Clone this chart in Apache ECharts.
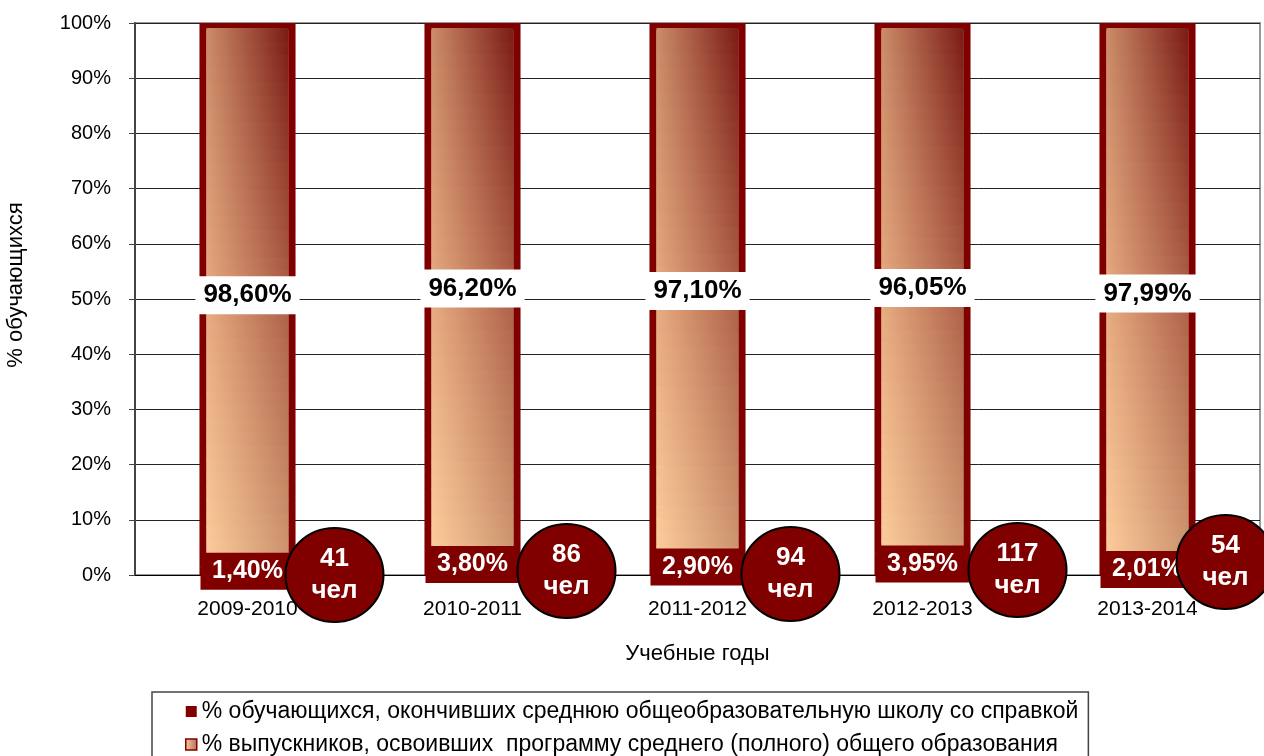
<!DOCTYPE html>
<html>
<head>
<meta charset="utf-8">
<script src="https://cdn.jsdelivr.net/npm/echarts@6/dist/echarts.min.js"></script>
<style>
  html, body { margin: 0; padding: 0; background: #fff; }
  #chart { width: 1264px; height: 756px; }
</style>
</head>
<body>
<div id="chart"></div>
<script>
// data
const years = ["2009-2010", "2010-2011", "2011-2012", "2012-2013", "2013-2014"];
const withCertificate = [1.40, 3.80, 2.90, 3.95, 2.01];
const graduated = [98.60, 96.20, 97.10, 96.05, 97.99];
const peopleCount = [41, 86, 94, 117, 54];

const nameCert = "% обучающихся, окончивших среднюю общеобразовательную школу со справкой";
const nameGrad = "% выпускников, освоивших  программу среднего (полного) общего образования";

const DARK = "#800000";
const FONT = '"Liberation Sans", Arial, sans-serif';
const BAR_W = 0.427;   // share of the category band
const BORDER = 7;

// "98,60%"
const fmt = (v) => v.toFixed(2).replace(".", ",") + "%";

// bar fill colours: rows bottom -> middle -> top, left and right edge
const leftRows = [[253, 205, 156], [230, 170, 128], [203, 140, 104]];
const rightRows = [[206, 150, 112], [172, 94, 70], [122, 26, 20]];

function mixRows(rows, v) {
  // v: 0 bottom, 1 top
  const t = v * 2;
  const i = Math.min(1, Math.floor(t));
  const f = t - i;
  const a = rows[i], b = rows[i + 1];
  const c = a.map((x, k) => Math.round(x + (b[k] - x) * f));
  return "rgb(" + c.join(",") + ")";
}

// upper segment: shaded fill inside the border + white value box
function renderTop(params, api) {
  const idx = api.value(0);
  const lo = api.coord([idx, api.value(1)]);
  const hi = api.coord([idx, api.value(2)]);
  const band = api.size([1, 0])[0];
  const inner = band * BAR_W - 2 * BORDER;
  const x0 = lo[0] - inner / 2;
  const yTop = hi[1] + BORDER - 2;
  const yBot = lo[1];
  const h = yBot - yTop;
  const N = 40;
  const children = [];
  for (let k = 0; k < N; k++) {
    const v = 1 - (k + 0.5) / N;
    children.push({
      type: "rect",
      shape: { x: x0, y: yTop + (k * h) / N, width: inner, height: h / N + 1 },
      style: {
        fill: new echarts.graphic.LinearGradient(0, 0, 1, 0, [
          { offset: 0, color: mixRows(leftRows, v) },
          { offset: 1, color: mixRows(rightRows, v) }
        ])
      }
    });
  }
  children.push({
    type: "text",
    style: {
      text: fmt(api.value(3)),
      x: lo[0],
      y: (lo[1] + hi[1]) / 2,
      align: "center",
      verticalAlign: "middle",
      fill: "#000",
      font: "bold 26px " + FONT,
      backgroundColor: "#fff",
      padding: [6, 8]
    }
  });
  return { type: "group", children: children };
}

// circles sit a bit right of each bar, last one pushed in from the edge
const circleOffsets = [[87, 0], [94, -4], [93, -1], [95, -5], [78, -13]];

const chart = echarts.init(document.getElementById("chart"));

const option = {
  animation: false,
  textStyle: { fontFamily: FONT },
  grid: {
    left: 135,
    right: 4,
    top: 23,
    bottom: 181,
    outerBoundsMode: "none",
    show: true,
    borderColor: "#999",
    borderWidth: 2
  },
  legend: {
    orient: "vertical",
    left: 152,
    top: 692,
    height: 120,
    padding: [8, 10, 30, 33],
    itemGap: 10,
    itemWidth: 11,
    itemHeight: 11,
    icon: "rect",
    borderColor: "#444",
    borderWidth: 1.5,
    textStyle: { fontSize: 23, color: "#000" },
    data: [
      { name: nameCert },
      { name: nameGrad, itemStyle: { borderWidth: 1.5, borderColor: DARK } }
    ]
  },
  xAxis: {
    type: "category",
    data: years,
    name: "Учебные годы",
    nameLocation: "middle",
    nameGap: 68,
    nameTextStyle: { fontSize: 22, color: "#000" },
    axisLine: { lineStyle: { color: "#000", width: 1 } },
    axisTick: { show: false },
    axisLabel: { fontSize: 21, color: "#000", margin: 24 }
  },
  yAxis: {
    type: "value",
    min: 0,
    max: 100,
    interval: 10,
    name: "% обучающихся",
    nameLocation: "middle",
    nameGap: 108,
    nameRotate: 90,
    nameTextStyle: { fontSize: 22, color: "#000", padding: [0, 0, 0, 28] },
    axisLine: { show: true, lineStyle: { color: "#444", width: 2 } },
    axisTick: { show: true, length: 6, lineStyle: { color: "#444" } },
    axisLabel: { formatter: "{value}%", fontSize: 20, color: "#000", margin: 24 },
    splitLine: { lineStyle: { color: "#222", width: 1 } }
  },
  series: [
    {
      name: nameCert,
      type: "bar",
      stack: "total",
      barWidth: (BAR_W * 100) + "%",
      z: 4,
      data: withCertificate,
      itemStyle: { color: DARK },
      label: {
        show: true,
        position: "inside",
        formatter: (p) => fmt(p.value),
        color: "#fff",
        fontSize: 25,
        fontWeight: "bold",
        backgroundColor: DARK,
        width: 82,
        align: "center",
        lineHeight: 25,
        padding: [6, 6]
      }
    },
    {
      name: nameGrad,
      type: "bar",
      stack: "total",
      barWidth: (BAR_W * 100) + "%",
      z: 2,
      data: graduated,
      itemStyle: {
        color: new echarts.graphic.LinearGradient(0, 0, 1, 0, [
          { offset: 0, color: "#fdcb9b" },
          { offset: 1, color: "#b0705a" }
        ]),
        borderColor: DARK,
        borderWidth: BORDER
      }
    },
    {
      type: "custom",
      z: 3,
      renderItem: renderTop,
      encode: { x: 0, y: [1, 2] },
      data: years.map((y, i) => [i, withCertificate[i], withCertificate[i] + graduated[i], graduated[i]])
    },
    {
      type: "scatter",
      z: 5,
      symbol: "circle",
      symbolSize: [98, 94],
      itemStyle: { color: DARK, borderColor: "#000", borderWidth: 2, opacity: 1 },
      label: {
        show: true,
        position: "inside",
        formatter: (p) => peopleCount[p.dataIndex] + "\nчел",
        color: "#fff",
        fontSize: 26,
        fontWeight: "bold",
        lineHeight: 32
      },
      data: peopleCount.map((n, i) => ({ value: [i, 0], symbolOffset: circleOffsets[i] }))
    }
  ]
};

chart.setOption(option);
window.addEventListener("resize", () => chart.resize());
</script>
</body>
</html>
